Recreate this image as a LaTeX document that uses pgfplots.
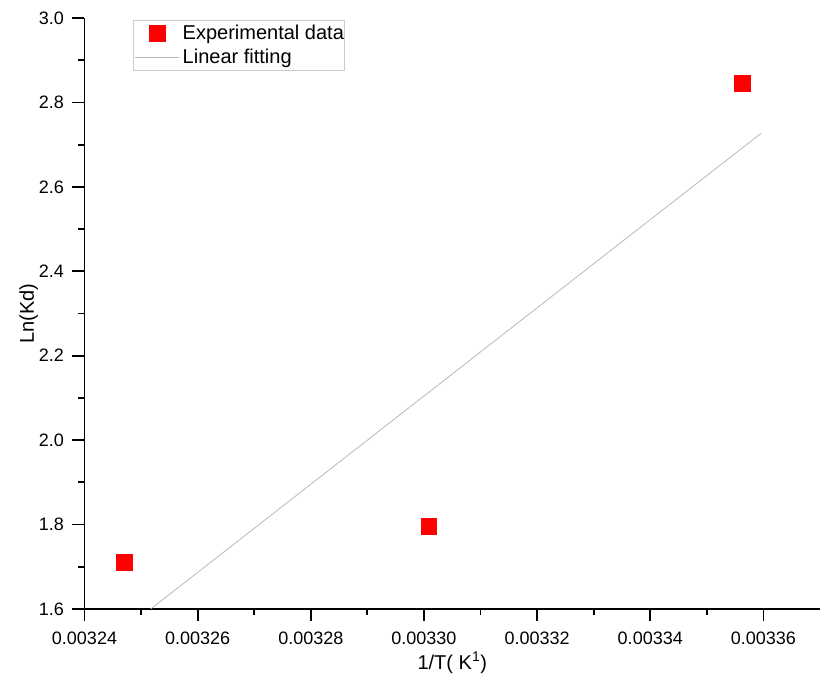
\documentclass[border=0pt]{standalone}
\usepackage{fontspec}
\setmainfont{Liberation Sans}
\usepackage{pgfplots}
\pgfplotsset{compat=1.18}
\usetikzlibrary{calc}

\definecolor{markred}{RGB}{255,0,0}
\definecolor{fitgray}{RGB}{185,185,185}
\definecolor{legframe}{RGB}{205,205,205}

% legend images of equal width, so both entries line up
\pgfplotsset{
  markleg/.style={legend image code/.code={
    \path[draw=none, fill=none] (0pt,-7pt) rectangle (46pt,7pt);
    \draw[##1] plot coordinates {(24pt,0pt)};
  }},
  lineleg/.style={legend image code/.code={
    \path[draw=none, fill=none] (0pt,-7pt) rectangle (46pt,7pt);
    \draw[##1] (2pt,0pt) -- (46pt,0pt);
  }},
}

\begin{document}
\begin{tikzpicture}
\begin{axis}[
  scale only axis,
  width=735.5pt, height=591pt,
  xmin=0.00324, xmax=0.00337,
  ymin=1.6, ymax=3.0,
  axis x line*=bottom, axis y line*=left,
  axis line style={line width=1.8pt, black},
  tick align=outside,
  major tick length=12pt, minor tick length=6pt,
  every tick/.style={line width=1.8pt, black},
  scaled x ticks=false,
  xtick={0.00324,0.00326,0.00328,0.00330,0.00332,0.00334,0.00336},
  xticklabels={0.00324,0.00326,0.00328,0.00330,0.00332,0.00334,0.00336},
  ytick={1.6,1.8,2.0,2.2,2.4,2.6,2.8,3.0},
  yticklabels={1.6,1.8,2.0,2.2,2.4,2.6,2.8,3.0},
  minor x tick num=1, minor y tick num=1,
  /pgf/number format/assume math mode=true,
  tick label style={font=\fontsize{18}{21}\selectfont},
  xticklabel style={yshift=-7pt},
  yticklabel style={xshift=-5pt},
  label style={font=\fontsize{20}{24}\selectfont},
  xlabel={1/T( K\textsuperscript{1})},
  ylabel={Ln(Kd)},
  xlabel style={at={(axis description cs:0.5,-0.0914)}, anchor=center},
  ylabel style={at={(axis description cs:-0.076,0.5)}, anchor=center},
  legend style={
    at={(axis description cs:0.066,0.997)}, anchor=north west,
    draw=legframe, line width=0.6pt,
    font=\fontsize{20}{24}\selectfont,
    inner xsep=0pt, inner ysep=5pt,
    nodes={inner sep=0pt},
    column sep=3pt,
    row sep=8pt,
    cells={anchor=west},
  },
  legend cell align=left,
]
\coordinate (bl) at (rel axis cs:0,0);
\coordinate (tr) at (rel axis cs:1,1);

% measured ln(Kd) against reciprocal temperature
\addplot[only marks, mark=square*, mark size=7.8pt,
  mark options={fill=markred, draw=markred, line width=0.2pt},
  markleg]
  coordinates {
    (0.003247, 1.711)
    (0.0033008, 1.797)
    (0.0033562, 2.846)
  };
\addlegendentry{Experimental data}

% least-squares line through the three points
\addplot[fitgray, line width=0.8pt, lineleg]
  coordinates {
    (0.0032517, 1.600)
    (0.0033596, 2.727)
  };
\addlegendentry{Linear fitting}
\end{axis}
\pgfresetboundingbox
\path[use as bounding box] ($(bl)+(-84.5pt,-78pt)$) rectangle ($(tr)+(0pt,18pt)$);
\end{tikzpicture}
\end{document}
